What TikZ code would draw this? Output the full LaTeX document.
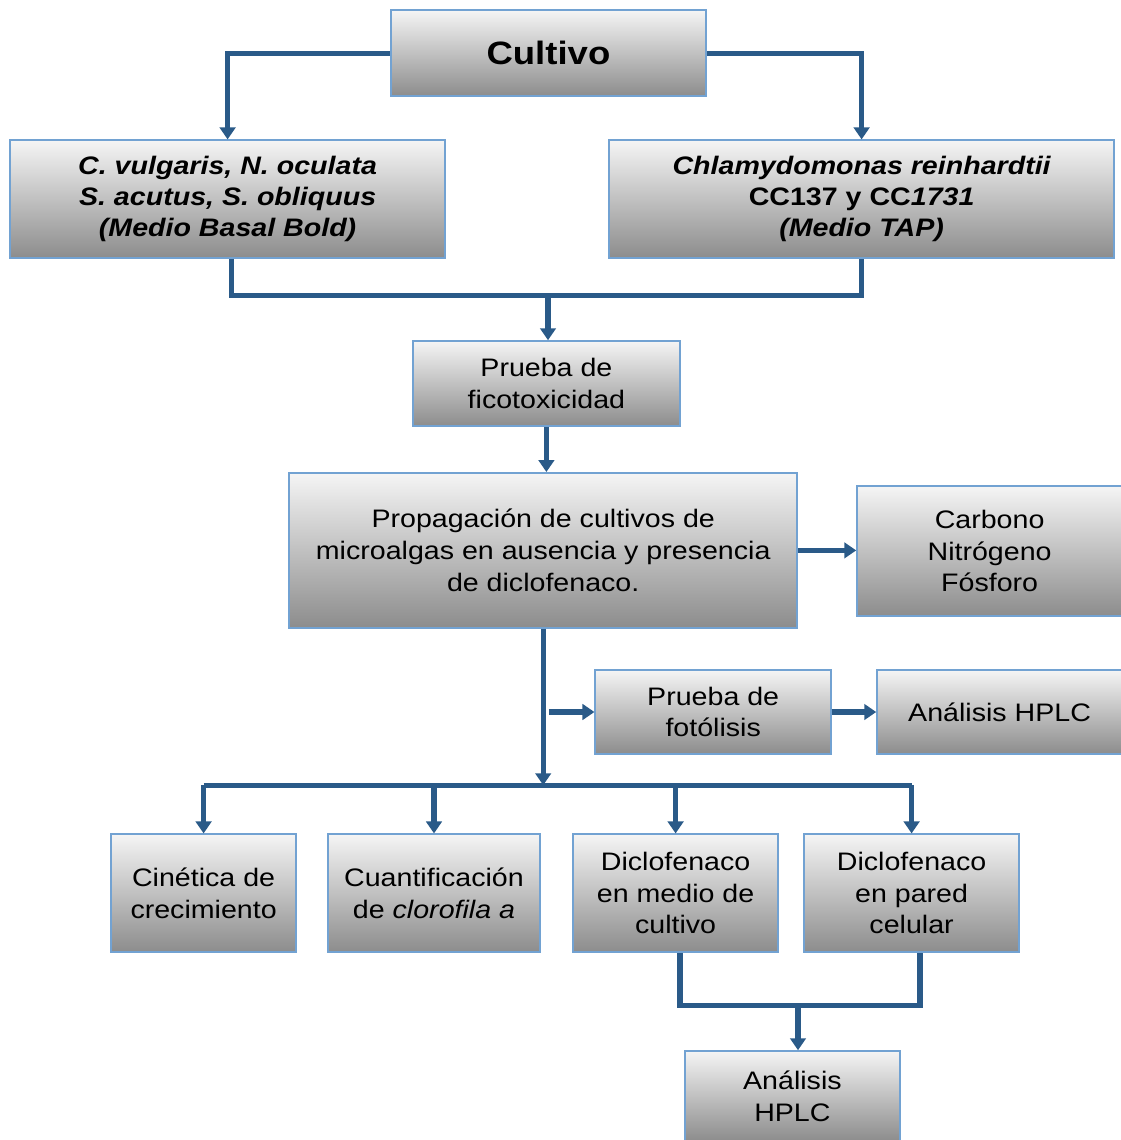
\documentclass[tikz,border=0pt]{standalone}
\usepackage{fontspec}
\setmainfont[FakeStretch=1.13]{Liberation Sans}
\usetikzlibrary{arrows.meta, calc}
\definecolor{linkblue}{HTML}{2A5A88}
\definecolor{edgeblue}{HTML}{72A2D2}
\tikzset{
  stepbox/.style = {rectangle, draw=edgeblue, line width=1.1pt, top color=white!96!black,
                    bottom color=black!45, align=center, inner sep=0pt,
                    font=\fontsize{18}{22.5}\selectfont, text=black},
  sppbox/.style  = {stepbox, font=\fontsize{18}{22}\selectfont\bfseries},
  topbox/.style  = {stepbox, font=\fontsize{23}{27}\selectfont\bfseries},
  line/.style    = {line width=3.6pt, draw=linkblue},
  link/.style    = {line, -{Triangle[width=11pt, length=8.5pt]}},
}

\begin{document}
\begin{tikzpicture}
\useasboundingbox (0,0) rectangle (28,-28.5);

% =============== CULTIVO + SPECIES ===============
\node (cult) [topbox, minimum width=7.88cm, minimum height=2.15cm] at (13.71,-1.33) {Cultivo};
\node (spp1) [sppbox, minimum width=10.88cm, minimum height=2.95cm] at (5.69,-4.98) {%
  \itshape C. vulgaris, N. oculata\\ \itshape S. acutus, S. obliquus\\ \itshape (Medio Basal Bold)};
\node (spp2) [sppbox, minimum width=12.63cm, minimum height=2.95cm] at (21.54,-4.98) {%
  \itshape Chlamydomonas reinhardtii\\ CC137 y CC\textit{1731}\\ \itshape (Medio TAP)};

\draw[link] (cult.west) -| (spp1.north);
\draw[link] (cult.east) -| (spp2.north);

% species -> ficotoxicidad
\coordinate (join1) at (13.7,-7.38);
\draw[line] ([xshift=0.1cm]spp1.south) |- (join1) -| (spp2.south);

% =============== PRUEBAS ===============
\node (fico) [stepbox, minimum width=6.68cm, minimum height=2.13cm] at (13.66,-9.59) {Prueba de\\ficotoxicidad};
\node (prop) [stepbox, minimum width=12.7cm, minimum height=3.88cm] at (13.58,-13.76) {%
  Propagación de cultivos de\\microalgas en ausencia y presencia\\de diclofenaco.};
\node (carb) [stepbox, minimum width=6.63cm, minimum height=3.25cm] at (24.74,-13.78) {Carbono\\Nitrógeno\\Fósforo};
\node (foto) [stepbox, minimum width=5.9cm, minimum height=2.1cm] at (17.83,-17.8) {Prueba de\\fotólisis};
\node (hplc1) [stepbox, minimum width=6.13cm, minimum height=2.1cm] at (24.99,-17.8) {Análisis HPLC};

\draw[link] (join1) -- (join1 |- fico.north);
\draw[link] (fico.south) -- (fico.south |- prop.north);
\draw[link] (prop.east) -- (prop.east -| carb.west);

\coordinate (bus) at (13.58,-19.63);
\coordinate (tap) at (13.72,-17.8);
\draw[link] (prop.south) -- (bus);
\draw[link] (tap) -- (foto.west);
\draw[link] (foto.east) -- (hplc1.west);

% =============== ANALISIS ===============
\node (cine) [stepbox, minimum width=4.63cm, minimum height=2.95cm] at (5.09,-22.33) {Cinética de\\crecimiento};
\node (cuan) [stepbox, minimum width=5.3cm, minimum height=2.95cm] at (10.85,-22.33) {Cuantificación\\de \textit{clorofila a}};
\node (dicm) [stepbox, minimum width=5.13cm, minimum height=2.95cm] at (16.89,-22.33) {Diclofenaco\\en medio de\\cultivo};
\node (dicp) [stepbox, minimum width=5.38cm, minimum height=2.95cm] at (22.79,-22.33) {Diclofenaco\\en pared\\celular};
\node (hplc2) [stepbox, minimum width=5.38cm, minimum height=2.25cm] at (19.81,-27.4) {Análisis\\HPLC};

\draw[line] (cine.north |- bus) -- (dicp.north |- bus);
\foreach \b in {cine,cuan,dicm,dicp}
  \draw[link] (\b.north |- bus) -- (\b.north);

% diclofenaco -> HPLC
\coordinate (join2) at (19.95,-25.13);
\draw[line] ([xshift=0.11cm]dicm.south) |- (join2) -| ([xshift=0.21cm]dicp.south);
\draw[link] (join2) -- (join2 |- hplc2.north);

\end{tikzpicture}
\end{document}
